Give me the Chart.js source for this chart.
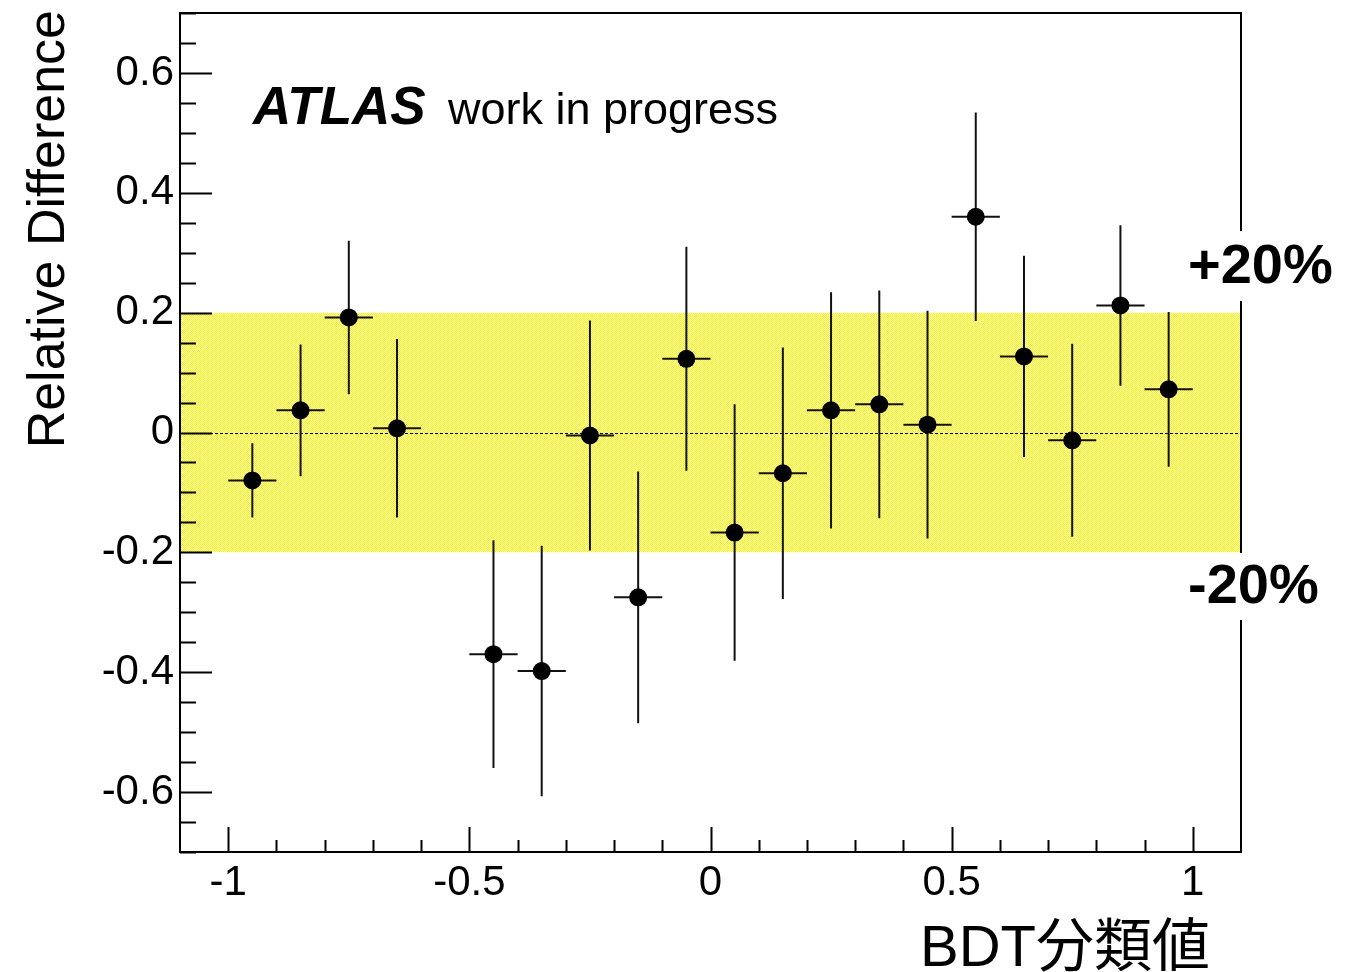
<!DOCTYPE html>
<html>
<head>
<meta charset="utf-8">
<script src="https://cdn.jsdelivr.net/npm/chart.js@4/dist/chart.umd.min.js"></script>
<style>
  body { margin: 0; background: #fff; }
  #wrap { width: 1353px; height: 972px; position: relative; }
</style>
</head>
<body>
<div id="wrap"><canvas id="c"></canvas></div>
<script>
// --- DATA ---
const binCenters = [-0.95, -0.85, -0.75, -0.65, -0.45, -0.35, -0.25, -0.15, -0.05, 0.05, 0.15, 0.25, 0.35, 0.45, 0.55, 0.65, 0.75, 0.85, 0.95];
const relDiff    = [-0.080, 0.037, 0.192, 0.007, -0.370, -0.398, -0.005, -0.275, 0.123, -0.167, -0.068, 0.037, 0.047, 0.013, 0.360, 0.127, -0.013, 0.212, 0.072];
const relErr     = [0.062, 0.110, 0.128, 0.149, 0.190, 0.209, 0.192, 0.210, 0.187, 0.214, 0.210, 0.197, 0.190, 0.190, 0.174, 0.168, 0.161, 0.134, 0.129];
const binHalfWidth = 0.05;
const bandLimits = [-0.2, 0.2];
const bandLabels = ['+20%', '-20%'];
const xTicks = [-1, -0.5, 0, 0.5, 1];
const yTicks = [-0.6, -0.4, -0.2, 0, 0.2, 0.4, 0.6];
const xRange = [-1.1, 1.1];
const yRange = [-0.7, 0.7];

const FONT = "'Liberation Sans', Arial, Helvetica, sans-serif";

// checkered yellow fill like the ROOT hatch
function makePattern() {
    const p = document.createElement('canvas');
    p.width = 2; p.height = 2;
    const g = p.getContext('2d');
    g.fillStyle = '#ffffd8'; g.fillRect(0, 0, 2, 2);
    g.fillStyle = '#fcf500'; g.fillRect(0, 0, 1, 1); g.fillRect(1, 1, 1, 1);
    return g.createPattern(p, 'repeat');
}

const points = binCenters.map((x, i) => ({ x: x, y: relDiff[i] }));

// error bars + zero line, drawn just after the band
const errorBars = {
    id: 'errorBars',
    afterDatasetDraw(chart, args) {
        if (args.index !== 0) return;
        const { ctx, chartArea: a, scales: { x, y } } = chart;
        ctx.save();
        // dotted zero line
        ctx.strokeStyle = '#000';
        ctx.lineWidth = 1;
        ctx.setLineDash([3, 2]);
        ctx.beginPath();
        ctx.moveTo(a.left, Math.round(y.getPixelForValue(0)) + 0.5);
        ctx.lineTo(a.right, Math.round(y.getPixelForValue(0)) + 0.5);
        ctx.stroke();
        ctx.setLineDash([]);
        ctx.strokeStyle = '#111';
        ctx.lineWidth = 2;
        binCenters.forEach((bx, i) => {
            const px = x.getPixelForValue(bx);
            const py = y.getPixelForValue(relDiff[i]);
            ctx.beginPath();
            ctx.moveTo(px, y.getPixelForValue(relDiff[i] + relErr[i]));
            ctx.lineTo(px, y.getPixelForValue(relDiff[i] - relErr[i]));
            ctx.moveTo(x.getPixelForValue(bx - binHalfWidth), py);
            ctx.lineTo(x.getPixelForValue(bx + binHalfWidth), py);
            ctx.stroke();
        });
        ctx.restore();
    }
};

// frame, tick marks, texts
const decorations = {
    id: 'decorations',
    afterDraw(chart) {
        const { ctx, chartArea: a, scales: { x, y } } = chart;
        ctx.save();
        ctx.strokeStyle = '#000';
        ctx.lineWidth = 2;
        ctx.strokeRect(a.left, a.top, a.right - a.left, a.bottom - a.top);

        ctx.beginPath();
        // y ticks every 0.05, major every 0.2
        for (let k = -14; k <= 14; k++) {
            const py = Math.round(y.getPixelForValue(k * 0.05)) + 0.5;
            const major = k % 4 === 0;
            ctx.moveTo(a.left, py);
            ctx.lineTo(a.left + (major ? 32 : 16), py);
        }
        // x ticks every 0.1, major every 0.5
        for (let k = -10; k <= 10; k++) {
            const px = Math.round(x.getPixelForValue(k * 0.1)) + 0.5;
            const major = k % 5 === 0;
            ctx.moveTo(px, a.bottom);
            ctx.lineTo(px, a.bottom - (major ? 25 : 12));
        }
        ctx.stroke();

        ctx.fillStyle = '#000';
        // ATLAS label
        ctx.textBaseline = 'alphabetic';
        ctx.textAlign = 'left';
        ctx.font = 'italic bold 53px ' + FONT;
        ctx.fillText('ATLAS', 253, 124);
        ctx.font = '45px ' + FONT;
        ctx.fillText('work in progress', 448, 124);

        // band labels with white backing over the frame
        ctx.fillStyle = '#fff';
        ctx.fillRect(1176, 231, 177, 70);
        ctx.fillRect(1176, 553, 177, 67);
        ctx.fillStyle = '#000';
        ctx.font = 'bold 56px ' + FONT;
        ctx.textBaseline = 'middle';
        ctx.fillText(bandLabels[0], 1188, 268);
        ctx.fillText(bandLabels[1], 1188, 588);

        // axis titles
        ctx.font = '58px ' + FONT + ", 'Noto Sans CJK JP'";
        ctx.textAlign = 'right';
        ctx.textBaseline = 'alphabetic';
        ctx.fillText('BDT分類値', 1210, 966);

        ctx.translate(64, 10);
        ctx.rotate(-Math.PI / 2);
        ctx.font = '52px ' + FONT;
        ctx.textAlign = 'right';
        ctx.fillText('Relative Difference', 0, 0);
        ctx.restore();
    }
};

function noPad(s) {
    s.paddingTop = 0; s.paddingBottom = 0; s.paddingLeft = 0; s.paddingRight = 0;
}

new Chart(document.getElementById('c'), {
    type: 'scatter',
    data: {
        datasets: [
            {
                label: 'band',
                type: 'line',
                data: [{ x: xRange[0], y: bandLimits[1] }, { x: xRange[1], y: bandLimits[1] }],
                fill: { value: bandLimits[0] },
                backgroundColor: makePattern(),
                borderWidth: 0,
                pointRadius: 0,
                order: 2
            },
            {
                label: 'data',
                data: points,
                pointRadius: 9,
                pointHoverRadius: 9,
                backgroundColor: '#000',
                borderColor: '#000',
                borderWidth: 0,
                order: 1
            }
        ]
    },
    options: {
        responsive: true,
        maintainAspectRatio: false,
        animation: false,
        events: [],
        layout: { padding: { top: 13, right: 112, left: 0, bottom: 0 } },
        plugins: { legend: { display: false }, tooltip: { enabled: false } },
        scales: {
            x: {
                type: 'linear',
                min: xRange[0], max: xRange[1],
                grid: { display: false, drawTicks: false },
                border: { display: false },
                afterBuildTicks: s => { s.ticks = xTicks.map(v => ({ value: v })); },
                afterFit: s => { s.height = 120; noPad(s); },
                ticks: {
                    autoSkip: false, maxRotation: 0, padding: 6,
                    color: '#000',
                    font: { family: FONT, size: 42 },
                    callback: v => String(v)
                }
            },
            y: {
                type: 'linear',
                min: yRange[0], max: yRange[1],
                grid: { display: false, drawTicks: false },
                border: { display: false },
                afterBuildTicks: s => { s.ticks = yTicks.map(v => ({ value: v })); },
                afterFit: s => { s.width = 180; noPad(s); },
                ticks: {
                    autoSkip: false, padding: 6,
                    color: '#000',
                    font: { family: FONT, size: 42 },
                    callback: v => String(v)
                }
            }
        }
    },
    plugins: [errorBars, decorations]
});
</script>
</body>
</html>
